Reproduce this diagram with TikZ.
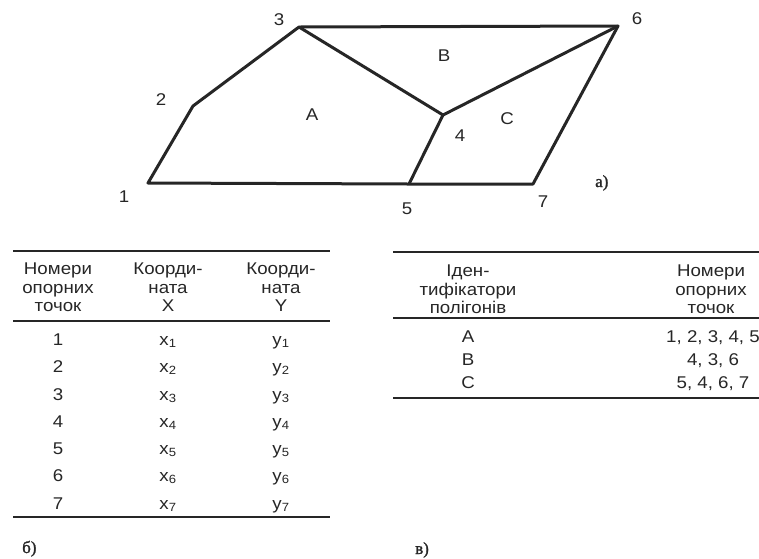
\documentclass[tikz,border=0pt]{standalone}
\usepackage{fontspec}
\setmainfont{Liberation Sans}[FakeStretch=1.1]
\newfontfamily\partfont{Liberation Serif}[FakeBold=1.5]
\begin{document}
\begin{tikzpicture}[x=1pt, y=-1pt, line join=round,
		edge/.style={line width=3pt, black!85},
		rule/.style={line width=2.6pt, black!85},
		lbl/.style={font=\fontsize{17}{18.5}\selectfont, text=black!85, inner sep=0pt},
		cell/.style={lbl, anchor=base},
		head/.style={lbl, anchor=north, align=center},
		part/.style={font=\partfont\fontsize{17}{19}\selectfont, text=black!85, inner sep=0pt, anchor=base west}]
			\useasboundingbox (0,0) rectangle (759,558);
			% а) polygons A, B, C
			\coordinate (p1) at (148,183);
			\coordinate (p2) at (193,106);
			\coordinate (p3) at (299,27);
			\coordinate (p4) at (443,115);
			\coordinate (p5) at (409,184);
			\coordinate (p6) at (618,26);
			\coordinate (p7) at (533,184);
			\draw[edge] (p1) -- (p2) -- (p3) -- (p6) -- (p7) -- (p5) -- cycle;
			\draw[edge] (p3) -- (p4) -- (p6);
			\draw[edge] (p4) -- (p5);
			\node[lbl] (n1) at (124,197) {1};
			\node[lbl] (n2) at (161,100) {2};
			\node[lbl] (n3) at (279,20) {3};
			\node[lbl] (n4) at (460,136) {4};
			\node[lbl] (n5) at (407,209) {5};
			\node[lbl] (n6) at (637,19) {6};
			\node[lbl] (n7) at (543,202) {7};
			\node[lbl] (pA) at (312,115) {A};
			\node[lbl] (pB) at (444,56) {B};
			\node[lbl] (pC) at (507,119) {C};
			\node[part] (capa) at (595,187) {а)};
			% б) table of points
			\coordinate (bl1) at (13,251);  \coordinate (br1) at (330,251);
			\coordinate (bl2) at (13,321);  \coordinate (br2) at (330,321);
			\coordinate (bl3) at (13,517);  \coordinate (br3) at (330,517);
			\draw[rule] (bl1) -- (br1);
			\draw[rule] (bl2) -- (br2);
			\draw[rule] (bl3) -- (br3);
			\node[head] (hnum) at (58,263) {Номери\\опорних\\точок};
			\node[head] (hx) at (168,263) {Коорди-\\ната\\X};
			\node[head] (hy) at (281,263) {Коорди-\\ната\\Y};
			\foreach \i/\yy in {1/345,2/372,3/400,4/427,5/454,6/481,7/509} {
				\node[cell] (num\i) at (58,\yy) {\i};
				\node[cell] (xc\i) at (168,\yy) {x\textsubscript{\i}};
				\node[cell] (yc\i) at (281,\yy) {y\textsubscript{\i}};
			}
			\node[part] (capb) at (22,553) {б)};
			% в) table of polygons
			\coordinate (cl1) at (393,252); \coordinate (cr1) at (759,252);
			\coordinate (cl2) at (393,318); \coordinate (cr2) at (759,318);
			\coordinate (cl3) at (393,398); \coordinate (cr3) at (759,398);
			\draw[rule] (cl1) -- (cr1);
			\draw[rule] (cl2) -- (cr2);
			\draw[rule] (cl3) -- (cr3);
			\node[head] (hid) at (468,265) {Іден-\\тифікатори\\полігонів};
			\node[head] (hpts) at (711,265) {Номери\\опорних\\точок};
			\node[cell] (idA) at (468,342) {A};
			\node[cell] (idB) at (468,365) {B};
			\node[cell] (idC) at (468,388) {C};
			\node[cell] (ptA) at (713,342) {1, 2, 3, 4, 5};
			\node[cell] (ptB) at (713,365) {4, 3, 6};
			\node[cell] (ptC) at (713,388) {5, 4, 6, 7};
			\node[part] (capc) at (415,554) {в)};
		\end{tikzpicture}
\end{document}
